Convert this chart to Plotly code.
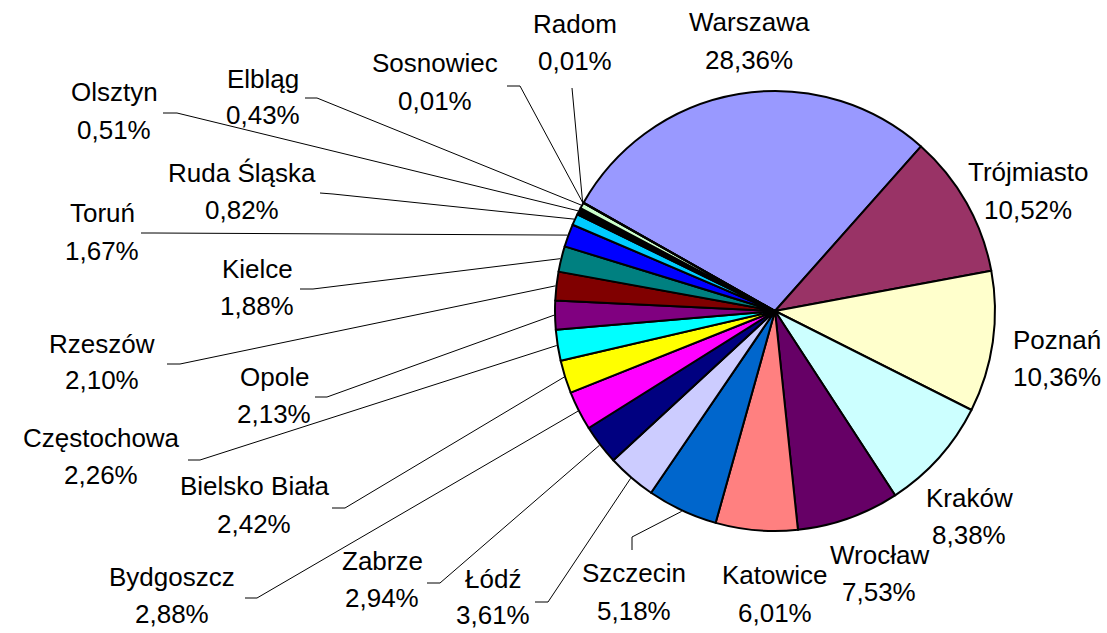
import math
import plotly.graph_objects as go

# ---------------- data ----------------
cities = ["Warszawa", "Trójmiasto", "Poznań", "Kraków", "Wrocław", "Katowice",
          "Szczecin", "Łódź", "Zabrze", "Bydgoszcz", "Bielsko Biała",
          "Częstochowa", "Opole", "Rzeszów", "Kielce", "Toruń", "Ruda Śląska",
          "Olsztyn", "Elbląg", "Sosnowiec", "Radom"]
shares = [28.36, 10.52, 10.36, 8.38, 7.53, 6.01, 5.18, 3.61, 2.94, 2.88, 2.42,
          2.26, 2.13, 2.10, 1.88, 1.67, 0.82, 0.51, 0.43, 0.01, 0.01]
pct_labels = [f"{v:.2f}".replace(".", ",") + "%" for v in shares]

# ---------------- style / layout ----------------
colors = ["#9999FF", "#993366", "#FFFFCC", "#CCFFFF", "#660066", "#FF8080",
          "#0066CC", "#CCCCFF", "#000080", "#FF00FF", "#FFFF00", "#00FFFF",
          "#800080", "#800000", "#008080", "#0000FF", "#00CCFF", "#000000",
          "#CCFFCC", "#FFFF99", "#99CCFF"]

W, H = 1107, 633
CX, CY, R = 775, 311, 220
START_DEG = -60.5
FONT = dict(family="Liberation Sans, Arial, sans-serif", size=26, color="black")

# label positions in pixels: (center x, name line y, percent line y)
label_pos = [
    (749, 22, 60), (1028, 172, 210), (1057, 340, 377), (969, 498, 535),
    (879, 555, 592), (775, 575, 613), (634, 573, 611), (493, 579, 615),
    (382, 561, 598), (172, 577, 614), (254, 486, 524), (101, 438, 475),
    (274, 377, 414), (102, 344, 380), (257, 269, 306), (102, 213, 251),
    (242, 173, 210), (114, 92, 130), (263, 79, 115), (435, 63, 101),
    (575, 24, 61),
]
# leader line label-side points (start, elbow); None = no leader
leader_pts = [
    None, None, None, None, None, None,
    [(632, 550), (632, 537)],
    [(535, 602), (548, 602)],
    [(427, 583), (440, 583)],
    [(245, 598), (257, 598)],
    [(332, 508), (345, 508)],
    [(188, 460), (200, 460)],
    [(315, 397), (327, 397)],
    [(167, 364), (180, 364)],
    [(300, 289), (313, 289)],
    [(141, 233), (154, 233)],
    [(320, 193), (333, 194)],
    [(163, 113), (177, 113)],
    [(305, 98), (317, 98)],
    [(507, 86), (520, 86)],
    [(572, 88), (572, 88)],
]


def px(x):
    return x / W


def py(y):
    return 1 - y / H


fig = go.Figure()
fig.add_trace(go.Pie(
    labels=cities, values=shares, sort=False, direction="clockwise",
    rotation=START_DEG, textinfo="none", hoverinfo="label+percent",
    marker=dict(colors=colors, line=dict(color="black", width=2)),
    domain=dict(x=[px(CX - R), px(CX + R)], y=[py(CY + R), py(CY - R)]),
    showlegend=False,
))

annotations = []
shapes = []
total = sum(shares)
cum = 0.0
for i, (name, v) in enumerate(zip(cities, shares)):
    mid = START_DEG + 360.0 * (cum + v / 2) / total
    cum += v
    ax = CX + (R + 1) * math.sin(math.radians(mid))
    ay = CY - (R + 1) * math.cos(math.radians(mid))
    x, y1, y2 = label_pos[i]
    annotations.append(dict(x=px(x), y=py(y1), xref="paper", yref="paper",
                            text=name, showarrow=False, font=FONT,
                            xanchor="center", yanchor="middle"))
    annotations.append(dict(x=px(x), y=py(y2), xref="paper", yref="paper",
                            text=pct_labels[i], showarrow=False, font=FONT,
                            xanchor="center", yanchor="middle"))
    lp = leader_pts[i]
    if lp is not None:
        (x0, y0), (x1, yy1) = lp
        path = (f"M {px(x0)} {py(y0)} L {px(x1)} {py(yy1)} "
                f"L {px(ax)} {py(ay)}")
        shapes.append(dict(type="path", xref="paper", yref="paper", path=path,
                           line=dict(color="black", width=1)))

fig.update_layout(
    width=W, height=H, margin=dict(l=0, r=0, t=0, b=0),
    paper_bgcolor="white", plot_bgcolor="white",
    annotations=annotations, shapes=shapes,
)

fig.write_html("out.html",
               config={"displayModeBar": False},
               post_script="document.body.style.margin='0';"
                           "document.body.style.overflow='hidden';")
